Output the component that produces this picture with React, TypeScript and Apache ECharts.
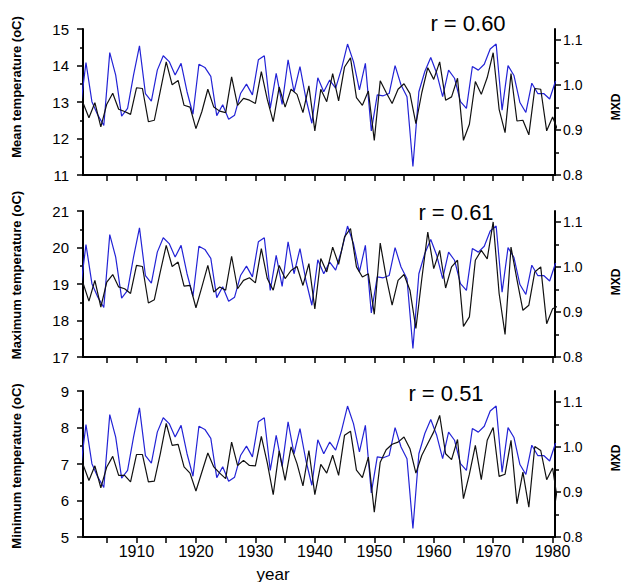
import React, { useEffect, useRef } from "react";
import * as echarts from "echarts";

// ---- data -----------------------------------------------------------
const YEARS: number[] = Array.from({ length: 81 }, (_, i) => 1901 + i);
const TICK_YEARS = [1905, 1910, 1915, 1920, 1925, 1930, 1935, 1940, 1945, 1950, 1955, 1960, 1965, 1970, 1975, 1980];
const LABEL_YEARS = [1910, 1920, 1930, 1940, 1950, 1960, 1970, 1980];
const MXD_TICKS = [0.8, 0.9, 1.0, 1.1];
const MXD_MINOR_TICKS = [0.85, 0.95, 1.05];

// maximum latewood density chronology (same in every panel)
const MXD = [
  0.942, 1.05, 0.963, 0.933, 0.91, 1.072, 1.022, 0.931, 0.948, 1.022,
  1.087, 0.981, 0.964, 1.033, 1.065, 1.052, 1.022, 1.048, 0.985, 0.935,
  1.046, 1.039, 1.019, 0.932, 0.956, 0.924, 0.933, 0.981, 1.002, 0.978,
  1.056, 1.065, 0.948, 1.026, 0.957, 1.056, 0.985, 1.041, 0.97, 0.915,
  1.016, 0.985, 1.011, 0.993, 1.037, 1.091, 1.052, 0.989, 1.048, 0.898,
  0.978, 0.976, 0.981, 1.043, 1.0, 0.974, 0.819, 0.985, 1.03, 1.061,
  1.026, 0.974, 1.033, 1.015, 0.963, 0.948, 1.041, 1.033, 1.046, 1.08,
  1.091, 0.944, 1.043, 1.021, 0.961, 0.939, 1.004, 0.981, 0.981, 0.969,
  1.009,
];

const T_MEAN = [
  12.98, 12.57, 12.98, 12.32, 12.94, 13.24, 12.8, 12.74, 12.66, 13.39,
  13.37, 12.46, 12.5, 13.3, 14.1, 13.47, 13.59, 12.91, 12.86, 12.27,
  12.74, 13.35, 12.86, 12.75, 12.71, 13.69, 12.91, 13.1, 13.05, 12.96,
  13.83, 13.07, 12.46, 13.41, 12.86, 13.35, 13.21, 12.71, 13.44, 12.21,
  13.35, 13.01, 13.78, 13.03, 13.96, 14.21, 13.12, 12.91, 13.3, 11.95,
  13.58, 13.26, 12.96, 13.35, 13.5, 13.23, 12.41, 13.26, 13.94, 13.62,
  14.1, 13.05, 13.14, 13.65, 11.95, 12.39, 13.56, 13.21, 13.67, 14.35,
  12.8, 12.16, 13.78, 12.48, 12.5, 12.1, 13.37, 13.35, 12.21, 12.59,
  12.17,
];

const T_MAX = [
  19.03, 18.53, 19.1, 18.37, 19.05, 19.26, 18.92, 18.87, 18.74, 19.51,
  19.48, 18.48, 18.57, 19.33, 20.06, 19.48, 19.6, 18.94, 18.96, 18.35,
  18.92, 19.51, 18.78, 18.92, 18.83, 19.76, 18.87, 19.1, 19.17, 19.03,
  19.97, 19.15, 18.83, 19.51, 19.15, 19.37, 19.48, 18.96, 19.56, 18.32,
  19.7, 19.33, 20.01, 19.54, 20.29, 20.52, 19.47, 19.19, 19.28, 18.17,
  20.12, 19.19, 18.42, 19.1, 19.26, 18.83, 17.78, 19.15, 20.42, 19.42,
  19.92, 18.89, 19.47, 19.65, 17.84, 18.1, 19.65, 19.92, 19.69, 20.7,
  18.74, 17.62, 20.01, 19.12, 18.28, 18.42, 19.33, 19.47, 17.91, 18.32,
  18.4,
];

const T_MIN = [
  6.99, 6.55, 6.95, 6.35, 6.92, 7.21, 6.69, 6.69, 6.51, 7.26,
  7.26, 6.51, 6.53, 7.28, 8.11, 7.51, 7.54, 6.92, 6.75, 6.26,
  6.78, 7.3, 6.92, 6.75, 6.6, 7.6, 6.96, 7.1, 6.96, 6.95,
  7.76, 7.03, 6.16, 7.36, 6.55, 7.47, 7.01, 6.4, 7.37, 6.16,
  6.99, 6.75, 7.24, 6.69, 7.79, 7.9, 6.83, 6.63, 7.19, 5.68,
  7.05, 7.39, 7.54, 7.6, 7.74, 7.42, 6.75, 7.24, 7.56, 7.88,
  8.33, 7.28, 7.12, 7.67, 6.05, 6.72, 7.51, 6.57, 7.65, 8.0,
  6.66, 6.72, 7.65, 5.91, 6.78, 5.82, 7.48, 7.37, 6.57, 6.89,
  5.8,
];

const PANELS = [
  { title: "Mean temperature (oC)", r: "r = 0.60", temp: T_MEAN, min: 11, max: 15 },
  { title: "Maximum temperature (oC)", r: "r = 0.61", temp: T_MAX, min: 17, max: 21 },
  { title: "Minimum temperature (oC)", r: "r = 0.51", temp: T_MIN, min: 5, max: 9 },
];

// ---- layout / style ---------------------------------------------------
const FONT = "'Liberation Sans', Arial, sans-serif";
const GRID_TOPS = [29, 211, 391];
const GRID_H = 146;
const MXD_MIN = 0.8;
const MXD_MAX = 1.1244;
const X_MIN = 1901;
const X_MAX = 1980.4;
const MXD_SHIFT = 0.5; // MXD curve is drawn half a year to the left in the original
const BLUE = "#2323d6";
const BLACK = "#111111";
const AX = { color: "#000", width: 2 };

function buildOption() {
  const grid: any[] = [];
  const xAxis: any[] = [];
  const yAxis: any[] = [];
  const series: any[] = [];
  const graphic: any[] = [];

  PANELS.forEach((p, gi) => {
    grid.push({ left: 83, right: 70, top: GRID_TOPS[gi], height: GRID_H, outerBoundsMode: "none" });
    xAxis.push({
      type: "value",
      gridIndex: gi,
      min: X_MIN,
      max: X_MAX,
      axisLine: { show: true, onZero: false, lineStyle: AX },
      axisTick: { show: true, customValues: TICK_YEARS, length: 6, lineStyle: { color: "#000", width: 1.5 } },
      axisLabel: {
        show: gi === 2,
        customValues: LABEL_YEARS,
        fontSize: 16,
        color: "#000",
        margin: 6,
        fontFamily: FONT,
        formatter: (v: number) => String(v),
      },
      splitLine: { show: false },
    });
    yAxis.push({
      type: "value",
      gridIndex: gi,
      position: "left",
      min: p.min,
      max: p.max,
      interval: 1,
      axisLine: { show: true, onZero: false, lineStyle: AX },
      axisTick: { show: true, length: 6, lineStyle: { color: "#000", width: 1.5 } },
      minorTick: { show: true, splitNumber: 2, length: 3, lineStyle: { color: "#000", width: 1.5 } },
      axisLabel: { fontSize: 15, color: "#000", margin: 14, fontFamily: FONT },
      splitLine: { show: false },
      minorSplitLine: { show: false },
    });
    yAxis.push({
      type: "value",
      gridIndex: gi,
      position: "right",
      min: MXD_MIN,
      max: MXD_MAX,
      axisLine: { show: true, onZero: false, lineStyle: AX },
      axisTick: { show: true, customValues: MXD_TICKS, length: 6, lineStyle: { color: "#000", width: 1.5 } },
      axisLabel: {
        customValues: MXD_TICKS,
        formatter: (v: number) => v.toFixed(1),
        fontSize: 14,
        color: "#000",
        margin: 8,
        fontFamily: FONT,
      },
      splitLine: { show: false },
    });
    yAxis.push({
      type: "value",
      gridIndex: gi,
      position: "right",
      min: MXD_MIN,
      max: MXD_MAX,
      axisLine: { show: false },
      axisTick: { show: true, customValues: MXD_MINOR_TICKS, length: 4, lineStyle: { color: "#000", width: 1.5 } },
      axisLabel: { show: false },
      splitLine: { show: false },
    });

    series.push({
      type: "line",
      name: p.title,
      xAxisIndex: gi,
      yAxisIndex: gi * 3,
      data: YEARS.map((y, i) => [y, p.temp[i]]),
      symbol: "none",
      clip: true,
      lineStyle: { color: BLACK, width: 1.2 },
      z: 3,
    });
    series.push({
      type: "line",
      name: "MXD",
      xAxisIndex: gi,
      yAxisIndex: gi * 3 + 1,
      data: YEARS.map((y, i) => [y - MXD_SHIFT, MXD[i]]),
      symbol: "none",
      clip: true,
      lineStyle: { color: BLUE, width: 1.2 },
      z: 2,
    });
  });

  const titleCentres = [87, 275, 466];
  const mxdCentres = [
    [616, 107],
    [616, 282],
    [616, 458],
  ];
  const rCentres = [
    [468, 23],
    [456, 212],
    [446, 393],
  ];
  PANELS.forEach((p, gi) => {
    graphic.push({
      type: "text",
      x: 16,
      y: titleCentres[gi],
      rotation: Math.PI / 2,
      style: {
        text: p.title,
        font: `bold 13px ${FONT}`,
        fill: "#000",
        textAlign: "center",
        textVerticalAlign: "middle",
      },
    });
    graphic.push({
      type: "text",
      x: mxdCentres[gi][0],
      y: mxdCentres[gi][1],
      rotation: Math.PI / 2,
      style: {
        text: "MXD",
        font: `bold 12px ${FONT}`,
        fill: "#000",
        textAlign: "center",
        textVerticalAlign: "middle",
      },
    });
    graphic.push({
      type: "text",
      x: rCentres[gi][0],
      y: rCentres[gi][1],
      style: {
        text: p.r,
        font: `22px ${FONT}`,
        fill: "#000",
        textAlign: "center",
        textVerticalAlign: "middle",
      },
    });
  });
  graphic.push({
    type: "text",
    x: 273,
    y: 574,
    style: {
      text: "year",
      font: `17px ${FONT}`,
      fill: "#000",
      textAlign: "center",
      textVerticalAlign: "middle",
    },
  });

  return {
    animation: false,
    backgroundColor: "#fff",
    grid,
    xAxis,
    yAxis,
    series,
    graphic,
  };
}

export default function App() {
  const ref = useRef<HTMLDivElement>(null);
  useEffect(() => {
    if (!ref.current) return;
    const chart = echarts.init(ref.current, null, { renderer: "svg" });
    chart.setOption(buildOption() as any);
    return () => chart.dispose();
  }, []);
  return (
    <div
      ref={ref}
      style={{ position: "fixed", left: 0, top: 0, width: 625, height: 582, background: "#fff" }}
    />
  );
}
